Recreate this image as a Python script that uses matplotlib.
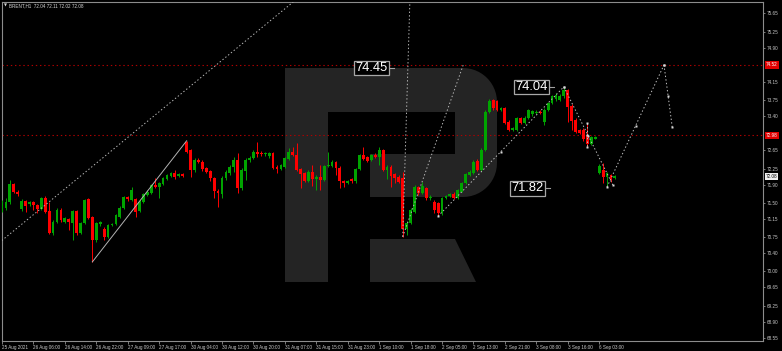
import numpy as np
import matplotlib
matplotlib.use('Agg')
import matplotlib.pyplot as plt
from matplotlib import font_manager
from matplotlib.patches import Polygon
from matplotlib.transforms import blended_transform_factory

# BRENT H1 candles, bar index 0..156
opens = [71.33, 71.40, 71.52, 71.92, 71.75, 71.37, 71.54, 71.48, 71.51, 71.46,
         71.37, 71.61, 71.32, 70.84, 71.09, 71.35, 71.09, 71.14, 71.07, 71.32,
         70.85, 71.07, 71.59, 71.19, 70.69, 71.04, 70.93, 70.76, 71.02, 71.04,
         71.20, 71.38, 71.62, 71.56, 71.58, 71.32, 71.53, 71.67, 71.72, 71.89,
         71.84, 71.92, 72.02, 72.09, 72.15, 72.10, 72.13, 72.83, 72.66, 72.22,
         72.45, 72.40, 72.26, 72.20, 72.04, 71.77, 71.70, 72.04, 72.15, 72.29,
         72.44, 71.82, 72.20, 72.43, 72.49, 72.62, 72.60, 72.56, 72.52, 72.59,
         72.29, 72.25, 72.28, 72.46, 72.62, 72.55, 72.24, 72.15, 71.98, 72.18,
         72.03, 72.07, 72.00, 72.31, 72.31, 72.40, 72.27, 71.98, 71.94, 72.02,
         71.97, 72.24, 72.55, 72.50, 72.44, 72.55, 72.51, 72.66, 72.21, 72.29,
         72.13, 72.07, 72.05, 70.93, 71.07, 71.30, 71.84, 71.71, 71.82, 71.60,
         71.53, 71.49, 71.27, 71.60, 71.65, 71.70, 71.60, 71.75, 71.93, 72.11,
         72.15, 72.42, 72.22, 72.66, 73.48, 73.75, 73.72, 73.53, 73.57, 73.28,
         73.10, 73.10, 73.35, 73.24, 73.36, 73.44, 73.46, 73.50, 73.28, 73.53,
         73.68, 73.77, 73.75, 73.83, 73.97, 73.62, 73.32, 73.10, 73.10, 72.99,
         72.80, 72.91, 72.15, 72.22, 72.07, 72.11, 72.04]
highs = [71.56, 71.61, 72.00, 71.94, 71.78, 71.59, 71.56, 71.54, 71.54, 71.48,
         71.63, 71.65, 71.53, 71.13, 71.38, 71.39, 71.19, 71.17, 71.35, 71.35,
         71.08, 71.59, 71.60, 71.22, 71.08, 71.10, 70.98, 71.04, 71.06, 71.26,
         71.43, 71.65, 71.65, 71.84, 71.61, 71.56, 71.72, 71.78, 71.92, 72.04,
         71.96, 72.07, 72.13, 72.18, 72.21, 72.16, 72.16, 72.86, 72.68, 72.48,
         72.48, 72.44, 72.29, 72.22, 72.07, 71.80, 72.09, 72.22, 72.33, 72.51,
         72.60, 72.26, 72.48, 72.53, 72.66, 72.84, 72.64, 72.62, 72.62, 72.62,
         72.33, 72.35, 72.51, 72.70, 72.73, 72.81, 72.26, 72.18, 72.22, 72.33,
         72.11, 72.33, 72.33, 72.62, 72.44, 72.42, 72.31, 72.00, 72.00, 72.05,
         72.26, 72.57, 72.73, 72.53, 72.57, 72.59, 72.73, 72.68, 72.33, 72.33,
         72.16, 72.11, 72.18, 71.10, 71.38, 71.89, 71.87, 71.96, 71.85, 71.67,
         71.56, 71.52, 71.63, 71.67, 71.72, 71.74, 71.81, 71.96, 72.16, 72.22,
         72.44, 72.46, 72.70, 73.53, 73.77, 73.77, 73.75, 73.60, 73.60, 73.32,
         73.16, 73.38, 73.38, 73.40, 73.56, 73.53, 73.53, 73.53, 73.57, 73.71,
         73.86, 73.90, 73.88, 74.04, 74.00, 73.66, 73.35, 73.12, 73.13, 73.25,
         72.97, 72.96, 72.35, 72.37, 72.18, 72.13, 72.11]
lows = [71.31, 71.35, 71.48, 71.72, 71.65, 71.32, 71.31, 71.43, 71.35, 71.29,
        71.35, 71.28, 70.82, 70.80, 71.06, 71.08, 71.06, 70.91, 70.69, 70.80,
        70.82, 71.04, 71.15, 70.21, 70.65, 71.00, 70.69, 70.73, 71.00, 71.02,
        71.17, 71.37, 71.55, 71.54, 71.20, 71.30, 71.50, 71.65, 71.70, 71.82,
        71.60, 71.89, 72.00, 72.07, 72.02, 72.07, 72.07, 72.59, 72.06, 72.18,
        72.37, 72.20, 72.16, 71.97, 71.60, 71.42, 71.60, 72.00, 72.11, 72.18,
        71.72, 71.78, 72.00, 72.40, 72.46, 72.51, 72.53, 72.53, 72.49, 72.24,
        72.16, 72.23, 72.26, 72.44, 72.53, 72.20, 71.82, 71.96, 71.96, 71.86,
        71.78, 71.78, 71.98, 72.29, 72.29, 72.11, 71.82, 71.84, 71.91, 71.94,
        71.94, 72.22, 72.43, 72.39, 72.42, 72.48, 72.33, 72.20, 72.02, 71.84,
        71.94, 71.94, 70.76, 70.80, 71.04, 71.28, 71.67, 71.69, 71.56, 71.56,
        71.27, 71.21, 71.24, 71.59, 71.63, 71.59, 71.59, 71.74, 71.91, 72.09,
        72.13, 72.20, 72.20, 72.64, 73.47, 73.53, 73.51, 73.51, 73.23, 73.08,
        73.08, 73.08, 73.23, 73.23, 73.33, 73.41, 73.44, 73.44, 73.21, 73.51,
        73.66, 73.74, 73.73, 73.80, 73.28, 73.10, 73.02, 73.00, 72.86, 72.73,
        72.77, 72.89, 72.13, 71.94, 71.84, 71.96, 72.02]
closes = [71.44, 71.53, 71.92, 71.75, 71.69, 71.54, 71.43, 71.51, 71.46, 71.36,
          71.60, 71.31, 70.84, 71.09, 71.35, 71.13, 71.16, 71.09, 71.32, 70.84,
          71.06, 71.56, 71.18, 70.69, 71.06, 71.08, 70.76, 71.02, 71.04, 71.24,
          71.40, 71.62, 71.58, 71.78, 71.31, 71.53, 71.69, 71.75, 71.89, 71.84,
          71.93, 72.04, 72.11, 72.15, 72.07, 72.13, 72.08, 72.62, 72.21, 72.44,
          72.40, 72.24, 72.18, 72.04, 71.76, 71.72, 72.05, 72.18, 72.29, 72.44,
          71.82, 72.22, 72.44, 72.49, 72.62, 72.57, 72.56, 72.59, 72.59, 72.26,
          72.24, 72.33, 72.48, 72.62, 72.55, 72.22, 72.13, 71.98, 72.18, 72.02,
          72.07, 72.00, 72.31, 72.33, 72.40, 72.27, 71.97, 71.93, 71.98, 71.97,
          72.24, 72.55, 72.46, 72.42, 72.55, 72.50, 72.66, 72.22, 72.29, 72.09,
          72.04, 71.96, 70.92, 71.07, 71.35, 71.85, 71.71, 71.86, 71.60, 71.64,
          71.35, 71.27, 71.60, 71.65, 71.70, 71.60, 71.78, 71.93, 72.13, 72.18,
          72.40, 72.22, 72.66, 73.50, 73.74, 73.57, 73.53, 73.57, 73.24, 73.10,
          73.13, 73.35, 73.24, 73.36, 73.53, 73.51, 73.50, 73.46, 73.53, 73.69,
          73.83, 73.86, 73.83, 73.97, 73.60, 73.30, 73.06, 73.03, 72.91, 72.80,
          72.94, 72.94, 72.31, 72.06, 72.15, 72.00, 72.08]

time_labels = ['25 Aug 2021', '26 Aug 06:00', '26 Aug 14:00', '26 Aug 22:00',
               '27 Aug 09:00', '27 Aug 17:00', '30 Aug 04:00', '30 Aug 12:00',
               '30 Aug 20:00', '31 Aug 07:00', '31 Aug 15:00', '31 Aug 23:00',
               '1 Sep 10:00', '1 Sep 18:00', '2 Sep 05:00', '2 Sep 13:00',
               '2 Sep 21:00', '3 Sep 08:00', '3 Sep 16:00', '6 Sep 03:00']
price_ticks = [75.65, 75.25, 74.90, 74.15, 73.75, 73.40, 72.65, 72.25, 71.90,
               71.50, 71.15, 70.75, 70.40, 70.00, 69.65, 69.25, 68.90, 68.55]
level_lines = [74.52, 72.98]
last_price = 72.08
header = 'BRENT,H1  72.04 72.11 72.02 72.08'

# analysis lines, (bar index, price)
channel_line = ([-1, 76], [70.61, 76.03])
impulse_line = ([23, 47], [70.21, 72.86])
fan_steep = ([102, 103.85], [70.76, 76.0])
fan_flat = ([102, 117.4], [70.76, 74.52])
forecast_legs = [((111, 71.21), (143, 74.04)),
                 ((143, 74.04), (155.5, 71.89)),
                 ((149, 73.25), (149, 72.73)),
                 ((154, 71.85), (168.5, 74.52)),
                 ((168.5, 74.52), (170.6, 73.16))]
callouts = [('74.45', 98.6, 74.45), ('74.04', 139.3, 74.04), ('71.82', 138.4, 71.82)]

W, H = 782, 351
plt.rcParams['lines.scale_dashes'] = False

names = {f.name for f in font_manager.fontManager.ttflist}
if 'Liberation Sans Narrow' in names:
    narrow, fs_small, fs_big = 'Liberation Sans Narrow', 3.9, 11.5
else:
    narrow, fs_small, fs_big = 'Liberation Sans', 3.3, 9.3

green = '#00a400'
red = '#ff0000'
grey_txt = '#c8c8c8'
logo_col = '#242424'

fig = plt.figure(figsize=(W / 100, H / 100), dpi=100, facecolor='black')
ax = fig.add_axes([2 / W, 10 / H, 761 / W, 339 / H])
ax.set_facecolor('black')


def px(pts):
    # pixel (y down) -> figure fraction
    return [(x / W, 1 - y / H) for x, y in pts]


def arc(cx, cy, r, a0, a1, n=14):
    a = np.radians(np.linspace(a0, a1, n))
    return list(zip(cx + r * np.cos(a), cy + r * np.sin(a)))


# watermark "R"
r = 34
bowl = ([(327.7, 68)] + arc(497 - r, 68 + r, r, -90, 0) + arc(497 - r, 197 - r, r, 0, 90)
        + [(370, 197), (370, 154), (455, 154), (455, 112), (327.7, 112)])
stem = [(285, 68), (327.7, 68), (327.7, 282), (285, 282)]
leg = [(370, 239), (455, 239), (476, 282), (370, 282)]
for shape in (bowl, stem, leg):
    ax.add_patch(Polygon(px(shape), closed=True, transform=fig.transFigure,
                         facecolor=logo_col, edgecolor='none', zorder=0))

# levels
for lv in level_lines:
    ax.axhline(lv, color='#b00000', lw=0.8, ls=(0, (1, 2)), zorder=1)

# candles
o = np.array(opens); h = np.array(highs); l = np.array(lows); c = np.array(closes)
x = np.arange(len(o))
cols = np.where(c >= o, green, red)
ax.vlines(x, l, h, colors=cols, linewidth=0.7, zorder=3)
ax.bar(x, np.maximum(np.abs(c - o), 0.012), bottom=np.minimum(o, c), width=0.72,
       color=cols, linewidth=0, zorder=4)

# analysis lines
dot = (0, (1.0, 1.6))
ax.plot(*channel_line, color='#b8b8b8', lw=0.7, ls=dot, zorder=5)
ax.plot(*impulse_line, color='#b4b4b4', lw=0.7, zorder=5)
ax.plot(*fan_steep, color='#b8b8b8', lw=0.7, ls=dot, zorder=5)
ax.plot(*fan_flat, color='#b8b8b8', lw=0.7, ls=dot, zorder=5)
for (x0, y0), (x1, y1) in forecast_legs:
    ax.plot([x0, (x0 + x1) / 2, x1], [y0, (y0 + y1) / 2, y1], color='#c0c0c0', lw=0.7,
            ls=dot, marker='s', ms=1.6, mfc='#d8d8d8', mec='none', zorder=6)

for s, bx, by in callouts:
    ax.text(bx - 0.5, by, s, ha='right', va='center', fontsize=fs_big, family=narrow,
            color='white', zorder=8,
            bbox=dict(boxstyle='square,pad=0.1', fc='black', ec='#a8a8a8', lw=0.9))
    ax.plot([bx, bx + 1.1], [by, by], color='#a0a0a0', lw=0.8, zorder=7)

# axes
ax.set_xlim(0.076, 193.7)
ax.set_ylim(68.479, 75.897)
ax.yaxis.tick_right()
ax.set_yticks(price_ticks)
ax.set_yticklabels(['%.2f' % v for v in price_ticks], family=narrow)
ax.set_xticks(np.arange(0, 8 * len(time_labels), 8))
ax.set_xticklabels(time_labels, ha='left', family=narrow)
ax.tick_params(axis='y', colors='#909090', labelcolor=grey_txt, labelsize=fs_small,
               length=1.5, width=0.6, pad=1)
ax.tick_params(axis='x', colors='#909090', labelcolor=grey_txt, labelsize=fs_small,
               length=2.5, width=0.6, pad=0.6)
for sp in ax.spines.values():
    sp.set_color('#8c8c8c')
    sp.set_linewidth(0.8)

blend = blended_transform_factory(ax.transAxes, ax.transData)
for lv in level_lines:
    ax.text(1.0035, lv, '%.2f' % lv, transform=blend, ha='left', va='center',
            fontsize=fs_small, family=narrow, color='white', clip_on=False,
            bbox=dict(boxstyle='square,pad=0.25', fc='#e00000', ec='none'))
ax.text(1.0035, last_price, '%.2f' % last_price, transform=blend, ha='left', va='center',
        fontsize=fs_small, family=narrow, color='black', clip_on=False,
        bbox=dict(boxstyle='square,pad=0.25', fc='#f0f0f0', ec='none'))

fig.text(3.5 / W, 1 - 5.5 / H, '\u25bc', family='DejaVu Sans', fontsize=2.8,
         color='#d8d8d8', va='center', ha='left')
fig.text(9 / W, 1 - 5.5 / H, header, family=narrow, fontsize=fs_small,
         color='#d8d8d8', va='center', ha='left')

fig.savefig('out.png', dpi=100, facecolor='black')
